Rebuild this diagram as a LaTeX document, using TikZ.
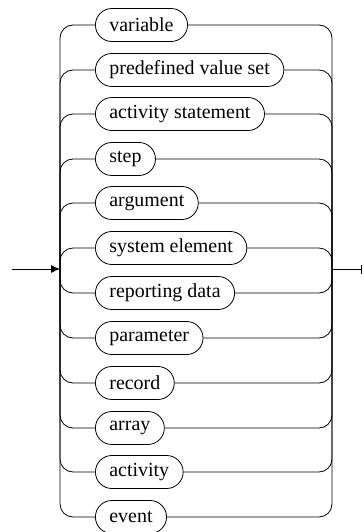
\documentclass[tikz,border=0pt]{standalone}
\usepackage{fontspec}
\setmainfont{Liberation Serif}
\usetikzlibrary{arrows.meta}

\begin{document}
\begin{tikzpicture}[x=1bp, y=-1bp, line width=0.8bp,
  every node/.style={font=\fontsize{20}{24}\selectfont},
  term/.style={draw, rounded corners=16.5bp, minimum height=33bp, inner xsep=14bp, anchor=west},
  branch/.style={rounded corners=13bp}]
\useasboundingbox (0,0) rectangle (363,532);
\coordinate (in) at (60,269);
\coordinate (out) at (332,269);
\coordinate (start) at (12,269);
\coordinate (end) at (362,269);
\node[term] (variable) at (95,25) {variable};
\node[term] (predef) at (95,70) {predefined value set};
\node[term] (actstmt) at (95,114) {activity statement};
\node[term] (stepterm) at (95,159) {step};
\node[term] (argument) at (95,203) {argument};
\node[term] (syselem) at (95,248) {system element};
\node[term] (repdata) at (95,293) {reporting data};
\node[term] (parameter) at (95,338) {parameter};
\node[term] (record) at (95,383) {record};
\node[term] (array) at (95,428) {array};
\node[term] (activity) at (95,472) {activity};
\node[term] (event) at (95,517) {event};

\draw[-{Latex[length=9bp,width=8bp]}] (start) -- (in);
\draw[-{Bar[width=9bp]}] (out) -- (end);

\draw[branch] (in) |- (variable.west);
\draw[branch] (in) |- (predef.west);
\draw[branch] (in) |- (actstmt.west);
\draw[branch] (in) |- (stepterm.west);
\draw[branch] (in) |- (argument.west);
\draw[branch] (in) |- (syselem.west);
\draw[branch] (in) |- (repdata.west);
\draw[branch] (in) |- (parameter.west);
\draw[branch] (in) |- (record.west);
\draw[branch] (in) |- (array.west);
\draw[branch] (in) |- (activity.west);
\draw[branch] (in) |- (event.west);

\draw[branch] (variable.east) -| (out);
\draw[branch] (predef.east) -| (out);
\draw[branch] (actstmt.east) -| (out);
\draw[branch] (stepterm.east) -| (out);
\draw[branch] (argument.east) -| (out);
\draw[branch] (syselem.east) -| (out);
\draw[branch] (repdata.east) -| (out);
\draw[branch] (parameter.east) -| (out);
\draw[branch] (record.east) -| (out);
\draw[branch] (array.east) -| (out);
\draw[branch] (activity.east) -| (out);
\draw[branch] (event.east) -| (out);
\end{tikzpicture}
\end{document}
